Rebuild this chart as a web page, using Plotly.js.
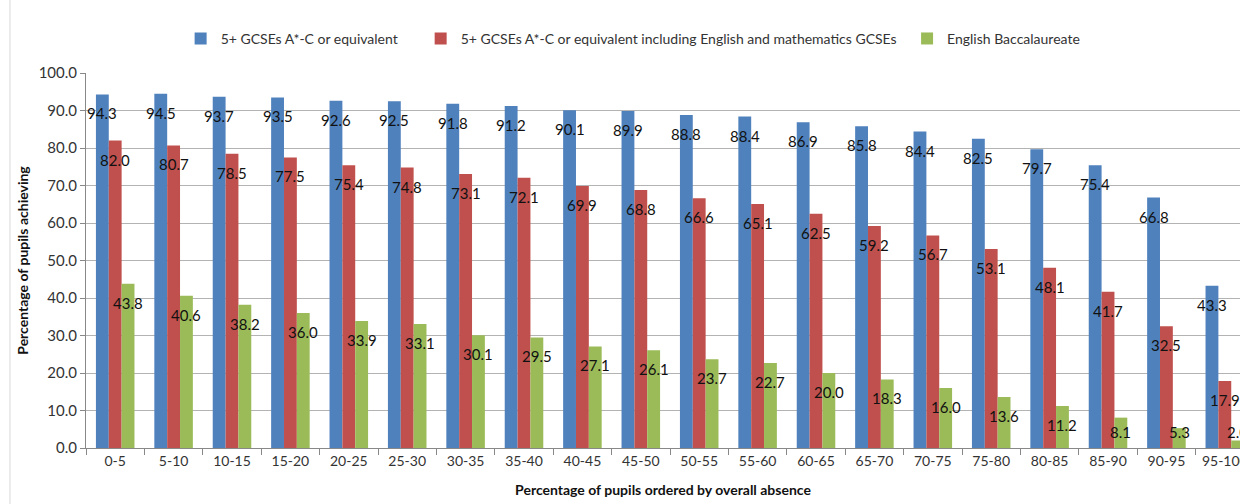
<!DOCTYPE html>
<html>
<head>
<meta charset="utf-8">
<script src="https://cdn.plot.ly/plotly-3.0.1.min.js"></script>
<style>
html,body{margin:0;padding:0;overflow:hidden;background:#fff;}
#chart{width:1240px;height:504px;}
</style>
</head>
<body>
<div id="chart"></div>
<script>
const categories = ["0-5","5-10","10-15","15-20","20-25","25-30","30-35","35-40","40-45","45-50","50-55","55-60","60-65","65-70","70-75","75-80","80-85","85-90","90-95","95-100"];
const seriesNames = ["5+ GCSEs A*-C or equivalent","5+ GCSEs A*-C or equivalent including English and mathematics GCSEs","English Baccalaureate"];
const gcse5 = [94.3,94.5,93.7,93.5,92.6,92.5,91.8,91.2,90.1,89.9,88.8,88.4,86.9,85.8,84.4,82.5,79.7,75.4,66.8,43.3];
const gcse5EM = [82.0,80.7,78.5,77.5,75.4,74.8,73.1,72.1,69.9,68.8,66.6,65.1,62.5,59.2,56.7,53.1,48.1,41.7,32.5,17.9];
const ebacc = [43.8,40.6,38.2,36.0,33.9,33.1,30.1,29.5,27.1,26.1,23.7,22.7,20.0,18.3,16.0,13.6,11.2,8.1,5.3,2.0];
const yTicks = [0,10,20,30,40,50,60,70,80,90,100];

const colors = ["#4F81BD","#C0504D","#9BBB59"];
const allSeries = [gcse5, gcse5EM, ebacc];
const legendIds = ["legend","legend2","legend3"];
const FONT = "Lato, 'Open Sans', sans-serif";

const traces = allSeries.map((vals, i) => ({
  type: "bar",
  name: seriesNames[i],
  x: categories,
  y: vals,
  marker: {color: colors[i], line: {width: 0}},
  legend: legendIds[i],
  hoverinfo: "x+y+name"
}));

// data labels: inside end, kept above the base
const barPx = 12.85;
const annotations = [];
allSeries.forEach((vals, i) => {
  vals.forEach((v, j) => {
    annotations.push({
      x: categories[j], y: Math.max(v, 9.33), xref: "x", yref: "y",
      text: v.toFixed(1), showarrow: false,
      xshift: (i - 1) * barPx, yshift: -19,
      font: {family: FONT, size: 15, color: "#111"}
    });
  });
});

const legendBase = {orientation: "h", yanchor: "middle", y: 1.091, xanchor: "left",
  font: {family: FONT, size: 14, color: "#333"}, bgcolor: "rgba(0,0,0,0)"};

const layout = {
  width: 1240, height: 504,
  margin: {l: 86, r: 0, t: 73, b: 56},
  paper_bgcolor: "#fff", plot_bgcolor: "#fff",
  barmode: "group", bargap: 0.34, bargroupgap: 0,
  font: {family: FONT, size: 14, color: "#333"},
  showlegend: true,
  legend: Object.assign({}, legendBase, {x: 0.082}),
  legend2: Object.assign({}, legendBase, {x: 0.290}),
  legend3: Object.assign({}, legendBase, {x: 0.7115}),
  xaxis: {
    type: "category", range: [-0.5, 19.26],
    tickson: "boundaries", ticks: "outside", ticklen: 6, tickcolor: "#888",
    showline: true, linecolor: "#888", linewidth: 1,
    showgrid: false, tickfont: {family: FONT, size: 14, color: "#333"},
    title: {text: "<b>Percentage of pupils ordered by overall absence</b>", font: {family: FONT, size: 14, color: "#111"}, standoff: 17},
    automargin: false, fixedrange: true
  },
  yaxis: {
    range: [0, 100], tickvals: yTicks, tickformat: ".1f",
    ticks: "outside", ticklen: 5, tickcolor: "#888",
    showline: true, linecolor: "#888", linewidth: 1,
    showgrid: true, gridcolor: "#b3b3b3", gridwidth: 1, zeroline: false,
    tickfont: {family: FONT, size: 15, color: "#333"},
    title: {text: "<b>Percentage of pupils achieving</b>", font: {family: FONT, size: 14, color: "#111"}, standoff: 6},
    automargin: false, fixedrange: true
  },
  annotations: annotations,
  shapes: [{type: "line", xref: "paper", yref: "paper", x0: -0.0659, x1: -0.0659, y0: -0.15, y1: 1.2,
            line: {color: "#d9d9d9", width: 1}}]
};

Plotly.newPlot("chart", traces, layout, {displayModeBar: false, staticPlot: true});
</script>
</body>
</html>
